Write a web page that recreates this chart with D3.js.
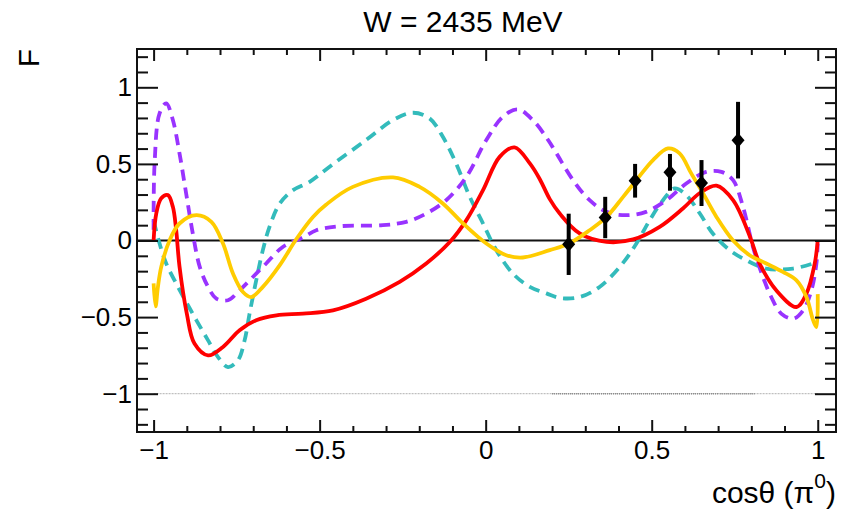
<!DOCTYPE html>
<html>
<head>
<meta charset="utf-8">
<script src="https://cdn.jsdelivr.net/npm/d3@7"></script>
<style>
  body { margin: 0; background: #fff; }
  svg { font-family: "Liberation Sans", Arial, sans-serif; }
</style>
</head>
<body>
<svg id="plot" width="851" height="510"></svg>
<script>
// tick values
const xTicks = [-1, -0.5, 0, 0.5, 1];
const yTicks = [-1, -0.5, 0, 0.5, 1];

// model curves, [cos theta, F]
const tealCurve = [
  [-1.0, 0.13], [-0.982, -0.02], [-0.962, -0.15], [-0.932, -0.281], [-0.902, -0.401],
  [-0.871, -0.521], [-0.836, -0.652], [-0.806, -0.761], [-0.776, -0.826], [-0.746, -0.782],
  [-0.726, -0.652], [-0.711, -0.477], [-0.691, -0.26], [-0.671, -0.063], [-0.651, 0.089],
  [-0.62, 0.242], [-0.58, 0.329], [-0.53, 0.383], [-0.465, 0.49], [-0.36, 0.656],
  [-0.279, 0.786], [-0.219, 0.834], [-0.169, 0.797], [-0.129, 0.677], [-0.089, 0.503],
  [-0.048, 0.285], [-0.008, 0.111], [0.032, -0.063], [0.082, -0.216], [0.133, -0.303],
  [0.183, -0.345], [0.223, -0.375], [0.283, -0.369], [0.343, -0.303], [0.404, -0.172],
  [0.454, -0.02], [0.494, 0.133], [0.534, 0.263], [0.569, 0.34], [0.604, 0.296],
  [0.645, 0.176], [0.684, 0.046], [0.735, -0.063], [0.785, -0.129], [0.845, -0.183],
  [0.926, -0.183], [1.0, -0.14]
];

const purpleCurve = [
  [-1.0, 0.07], [-0.997, 0.503], [-0.982, 0.83], [-0.962, 0.895], [-0.942, 0.786],
  [-0.922, 0.569], [-0.902, 0.307], [-0.882, 0.046], [-0.861, -0.172], [-0.836, -0.303],
  [-0.811, -0.379], [-0.776, -0.39], [-0.741, -0.325], [-0.701, -0.238], [-0.661, -0.15],
  [-0.611, -0.042], [-0.55, 0.02], [-0.51, 0.067], [-0.44, 0.093], [-0.31, 0.1],
  [-0.239, 0.122], [-0.179, 0.176], [-0.119, 0.263], [-0.058, 0.416], [0.002, 0.656],
  [0.052, 0.808], [0.097, 0.856], [0.142, 0.786], [0.188, 0.656], [0.213, 0.569],
  [0.263, 0.394], [0.313, 0.263], [0.364, 0.187], [0.423, 0.165], [0.483, 0.187],
  [0.544, 0.263], [0.604, 0.372], [0.664, 0.448], [0.71, 0.448], [0.745, 0.394],
  [0.775, 0.22], [0.805, -0.042], [0.835, -0.238], [0.86, -0.369], [0.89, -0.477],
  [0.926, -0.51], [0.956, -0.456], [0.981, -0.325], [0.996, -0.15], [1.0, -0.02]
];

const redCurve = [
  [-1.0, 0.0], [-0.992, 0.176], [-0.977, 0.275], [-0.957, 0.296], [-0.942, 0.22],
  [-0.932, 0.067], [-0.922, -0.17], [-0.9, -0.477], [-0.877, -0.673], [-0.836, -0.75],
  [-0.791, -0.695], [-0.741, -0.586], [-0.691, -0.52], [-0.63, -0.488], [-0.55, -0.477],
  [-0.46, -0.456], [-0.36, -0.38], [-0.259, -0.27], [-0.179, -0.15], [-0.108, -0.01],
  [-0.058, 0.133], [-0.008, 0.329], [0.042, 0.546], [0.087, 0.608], [0.133, 0.503],
  [0.163, 0.4], [0.193, 0.27], [0.223, 0.176], [0.283, 0.046], [0.364, -0.009],
  [0.444, 0.007], [0.524, 0.089], [0.594, 0.209], [0.645, 0.31], [0.695, 0.358],
  [0.745, 0.263], [0.795, 0.03], [0.825, -0.15], [0.875, -0.325], [0.936, -0.434],
  [0.966, -0.347], [0.991, -0.15], [1.0, 0.0]
];

const yellowCurve = [
  [-1.0, -0.28], [-0.994, -0.43], [-0.987, -0.303], [-0.977, -0.172], [-0.952, 0.0],
  [-0.922, 0.111], [-0.871, 0.165], [-0.826, 0.122], [-0.791, -0.02], [-0.761, -0.216],
  [-0.731, -0.336], [-0.706, -0.369], [-0.671, -0.303], [-0.62, -0.161], [-0.57, 0.01],
  [-0.52, 0.154], [-0.48, 0.235], [-0.4, 0.35], [-0.279, 0.412], [-0.199, 0.35],
  [-0.129, 0.242], [-0.068, 0.111], [0.002, -0.02], [0.062, -0.096], [0.112, -0.111],
  [0.193, -0.063], [0.251, -0.02], [0.313, 0.067], [0.364, 0.154], [0.414, 0.285],
  [0.454, 0.394], [0.504, 0.525], [0.549, 0.601], [0.584, 0.569], [0.619, 0.438],
  [0.655, 0.307], [0.695, 0.154], [0.745, 0.0], [0.795, -0.096], [0.845, -0.15],
  [0.895, -0.205], [0.936, -0.26], [0.966, -0.369], [0.986, -0.52], [0.996, -0.565],
  [1.0, -0.35]
];

// measured points
const dataX = [0.25, 0.36, 0.45, 0.555, 0.65, 0.76];
const dataY = [-0.025, 0.15, 0.39, 0.445, 0.375, 0.655];
const dataErr = [0.2, 0.135, 0.11, 0.12, 0.15, 0.25];

// faint line at F = -1
const floorLight = [-1, 1];
const floorDark = [[0.2, 0.3], [0.305, 0.7], [0.705, 0.81]];

const svg = d3.select("#plot");
const frame = { left: 137, right: 836, top: 49, bottom: 432 };

const x = d3.scaleLinear().domain([-1.05, 1.055]).range([frame.left, frame.right]);
const y = d3.scaleLinear().domain([-1.25, 1.25]).range([frame.bottom, frame.top]);

const fmt = d3.format("");
const minorX = d3.range(-10, 11).map((i) => i / 10).filter((v) => !xTicks.includes(v));
const minorY = d3.range(-12, 13).map((i) => i / 10).filter((v) => !yTicks.includes(v));

// floor dotted line
svg.append("line")
  .attr("x1", x(floorLight[0])).attr("x2", x(floorLight[1]))
  .attr("y1", y(-1)).attr("y2", y(-1))
  .attr("stroke", "#b0b0b0").attr("stroke-width", 1)
  .attr("stroke-dasharray", "2,1");
svg.selectAll(".floor-dark")
  .data(floorDark)
  .join("line")
  .attr("class", "floor-dark")
  .attr("x1", (d) => x(d[0])).attr("x2", (d) => x(d[1]))
  .attr("y1", y(-1)).attr("y2", y(-1))
  .attr("stroke", "#888").attr("stroke-width", 1.5)
  .attr("stroke-dasharray", "1,1");

// zero line
svg.append("line")
  .attr("x1", frame.left).attr("x2", frame.right)
  .attr("y1", y(0)).attr("y2", y(0))
  .attr("stroke", "#111").attr("stroke-width", 2);

// curves
const line = d3.line()
  .x((d) => x(d[0]))
  .y((d) => y(d[1]))
  .curve(d3.curveCatmullRom.alpha(0.5));

const curves = [
  { pts: tealCurve, color: "#33bbbb", dash: "11,7" },
  { pts: purpleCurve, color: "#9933ff", dash: "11,7" },
  { pts: redCurve, color: "#ff0000", dash: null },
  { pts: yellowCurve, color: "#ffcc00", dash: null },
];

svg.selectAll(".curve")
  .data(curves)
  .join("path")
  .attr("class", "curve")
  .attr("d", (d) => line(d.pts))
  .attr("fill", "none")
  .attr("stroke", (d) => d.color)
  .attr("stroke-width", 3.8)
  .attr("stroke-dasharray", (d) => d.dash);

// data points with errors
const pts = dataX.map((v, i) => ({ x: v, y: dataY[i], e: dataErr[i] }));

svg.selectAll(".err")
  .data(pts)
  .join("line")
  .attr("class", "err")
  .attr("x1", (d) => x(d.x)).attr("x2", (d) => x(d.x))
  .attr("y1", (d) => y(d.y - d.e)).attr("y2", (d) => y(d.y + d.e))
  .attr("stroke", "#000").attr("stroke-width", 4);

svg.selectAll(".marker")
  .data(pts)
  .join("path")
  .attr("class", "marker")
  .attr("d", (d) => {
    const cx = x(d.x), cy = y(d.y);
    return `M${cx},${cy - 7.5}L${cx + 6.5},${cy}L${cx},${cy + 7.5}L${cx - 6.5},${cy}Z`;
  })
  .attr("fill", "#000");

// frame and ticks
const tickStyle = (g) => {
  g.select(".domain").remove();
  g.selectAll(".tick line").attr("stroke", "#111").attr("stroke-width", 2);
  g.selectAll(".tick text").attr("fill", "#000").style("font-size", "26px");
};

svg.append("g").attr("transform", `translate(0,${frame.bottom})`)
  .call(d3.axisBottom(x).tickValues(xTicks).tickSize(-12).tickPadding(9).tickFormat(fmt))
  .call(tickStyle);
svg.append("g").attr("transform", `translate(0,${frame.bottom})`)
  .call(d3.axisBottom(x).tickValues(minorX).tickSize(-6).tickFormat(""))
  .call(tickStyle);
svg.append("g").attr("transform", `translate(0,${frame.top})`)
  .call(d3.axisTop(x).tickValues(xTicks).tickSize(-12).tickFormat(""))
  .call(tickStyle);
svg.append("g").attr("transform", `translate(0,${frame.top})`)
  .call(d3.axisTop(x).tickValues(minorX).tickSize(-6).tickFormat(""))
  .call(tickStyle);

svg.append("g").attr("transform", `translate(${frame.left},0)`)
  .call(d3.axisLeft(y).tickValues(yTicks).tickSize(-21).tickPadding(5).tickFormat(fmt))
  .call(tickStyle);
svg.append("g").attr("transform", `translate(${frame.left},0)`)
  .call(d3.axisLeft(y).tickValues(minorY).tickSize(-11).tickFormat(""))
  .call(tickStyle);
svg.append("g").attr("transform", `translate(${frame.right},0)`)
  .call(d3.axisRight(y).tickValues(yTicks).tickSize(-21).tickFormat(""))
  .call(tickStyle);
svg.append("g").attr("transform", `translate(${frame.right},0)`)
  .call(d3.axisRight(y).tickValues(minorY).tickSize(-11).tickFormat(""))
  .call(tickStyle);

svg.append("rect")
  .attr("x", frame.left).attr("y", frame.top)
  .attr("width", frame.right - frame.left).attr("height", frame.bottom - frame.top)
  .attr("fill", "none").attr("stroke", "#111").attr("stroke-width", 2);

// title and axis titles
svg.append("text")
  .attr("x", 463).attr("y", 32)
  .attr("text-anchor", "middle")
  .style("font-size", "30px")
  .text("W = 2435 MeV");

const xt = svg.append("text")
  .attr("x", frame.right).attr("y", 503)
  .attr("text-anchor", "end")
  .style("font-size", "30px");
xt.append("tspan").text("cosθ (π");
xt.append("tspan").attr("dy", -15).style("font-size", "21px").text("0");
xt.append("tspan").attr("dy", 15).text(")");

svg.append("text")
  .attr("transform", `translate(39,${frame.top}) rotate(-90)`)
  .attr("text-anchor", "end")
  .style("font-size", "30px")
  .text("F");
</script>
</body>
</html>
